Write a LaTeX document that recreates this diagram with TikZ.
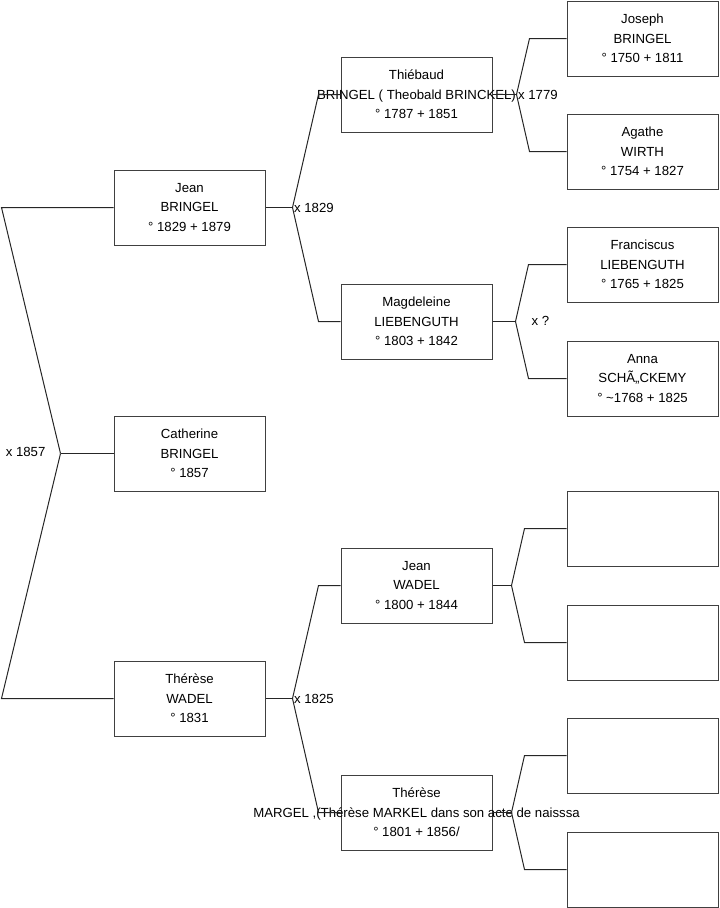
\documentclass[tikz,border=0pt]{standalone}
\usepackage{fontspec}
\setmainfont{Liberation Sans}
\begin{document}
\begin{tikzpicture}[x=0.75pt,y=-0.75pt,
    person/.style={draw=black!75,line width=0.75pt,minimum width=113.25pt,minimum height=56.25pt,
      align=center,inner sep=0pt,font=\fontsize{9.9}{14.6}\selectfont},
    link/.style={line width=0.75pt,black!85},
    lbl/.style={inner sep=1pt,font=\fontsize{9.9}{11}\selectfont}]
  \useasboundingbox (0,0) rectangle (719,908);

  % generation 1
  \node[person] (jean) at (189.5,207.5) {Jean\\BRINGEL\\° 1829 + 1879};
  \node[person] (catherine) at (189.5,453.5) {Catherine\\BRINGEL\\° 1857};
  \node[person] (therese) at (189.5,698.5) {Thérèse\\WADEL\\° 1831};

  % generation 2
  \node[person] (thiebaud) at (416.5,94.5) {Thiébaud\\\makebox[0pt]{BRINGEL ( Theobald BRINCKEL)}\\° 1787 + 1851};
  \node[person] (magdeleine) at (416.5,321.5) {Magdeleine\\LIEBENGUTH\\° 1803 + 1842};
  \node[person] (jeanw) at (416.5,585.5) {Jean\\WADEL\\° 1800 + 1844};
  \node[person] (theresem) at (416.5,812.5) {Thérèse\\\makebox[0pt]{MARGEL ,(Thérèse MARKEL dans son acte de naisssa}\\° 1801 + 1856/};

  % generation 3
  \node[person] (joseph) at (642.5,38.5) {Joseph\\BRINGEL\\° 1750 + 1811};
  \node[person] (agathe) at (642.5,151.5) {Agathe\\WIRTH\\° 1754 + 1827};
  \node[person] (franciscus) at (642.5,264.5) {Franciscus\\LIEBENGUTH\\° 1765 + 1825};
  \node[person] (anna) at (642.5,378.5) {Anna\\SCHÃ„CKEMY\\° \textasciitilde1768 + 1825};
  \foreach \n/\y in {e1/528.5,e2/642.5,e3/755.5,e4/869.5}{
    \node[person] (\n) at (642.5,\y) {};
  }

  % forks
  \draw[link] (catherine.west) -- ++(-53,0) coordinate (kcatherine);
  \draw[link] (jean.west) -- ++(-112,0) -- (kcatherine);
  \draw[link] (therese.west) -- ++(-112,0) -- (kcatherine);
  \foreach \c/\a/\b/\f/\g in {jean/thiebaud/magdeleine/27/22,
      therese/jeanw/theresem/27/22,
      thiebaud/joseph/agathe/24/37,
      magdeleine/franciscus/anna/23/38,
      jeanw/e1/e2/19/42,
      theresem/e3/e4/19/42}{
    \draw[link] (\c.east) -- ++(\f,0) coordinate (k\c);
    \draw[link] (\a.west) -- ++(-\g,0) -- (k\c);
    \draw[link] (\b.west) -- ++(-\g,0) -- (k\c);
  }

  % marriages
  \node[lbl,anchor=east] (m1857) at (47,452) {x 1857};
  \node[lbl,anchor=west] (m1829) at (kjean) {x 1829};
  \node[lbl,anchor=west] (m1825) at (ktherese) {x 1825};
  \node[lbl,anchor=west] (m1779) at (kthiebaud) {x 1779};
  \node[lbl,anchor=west] (mq) at (530,320.5) {x ?};
\end{tikzpicture}
\end{document}
